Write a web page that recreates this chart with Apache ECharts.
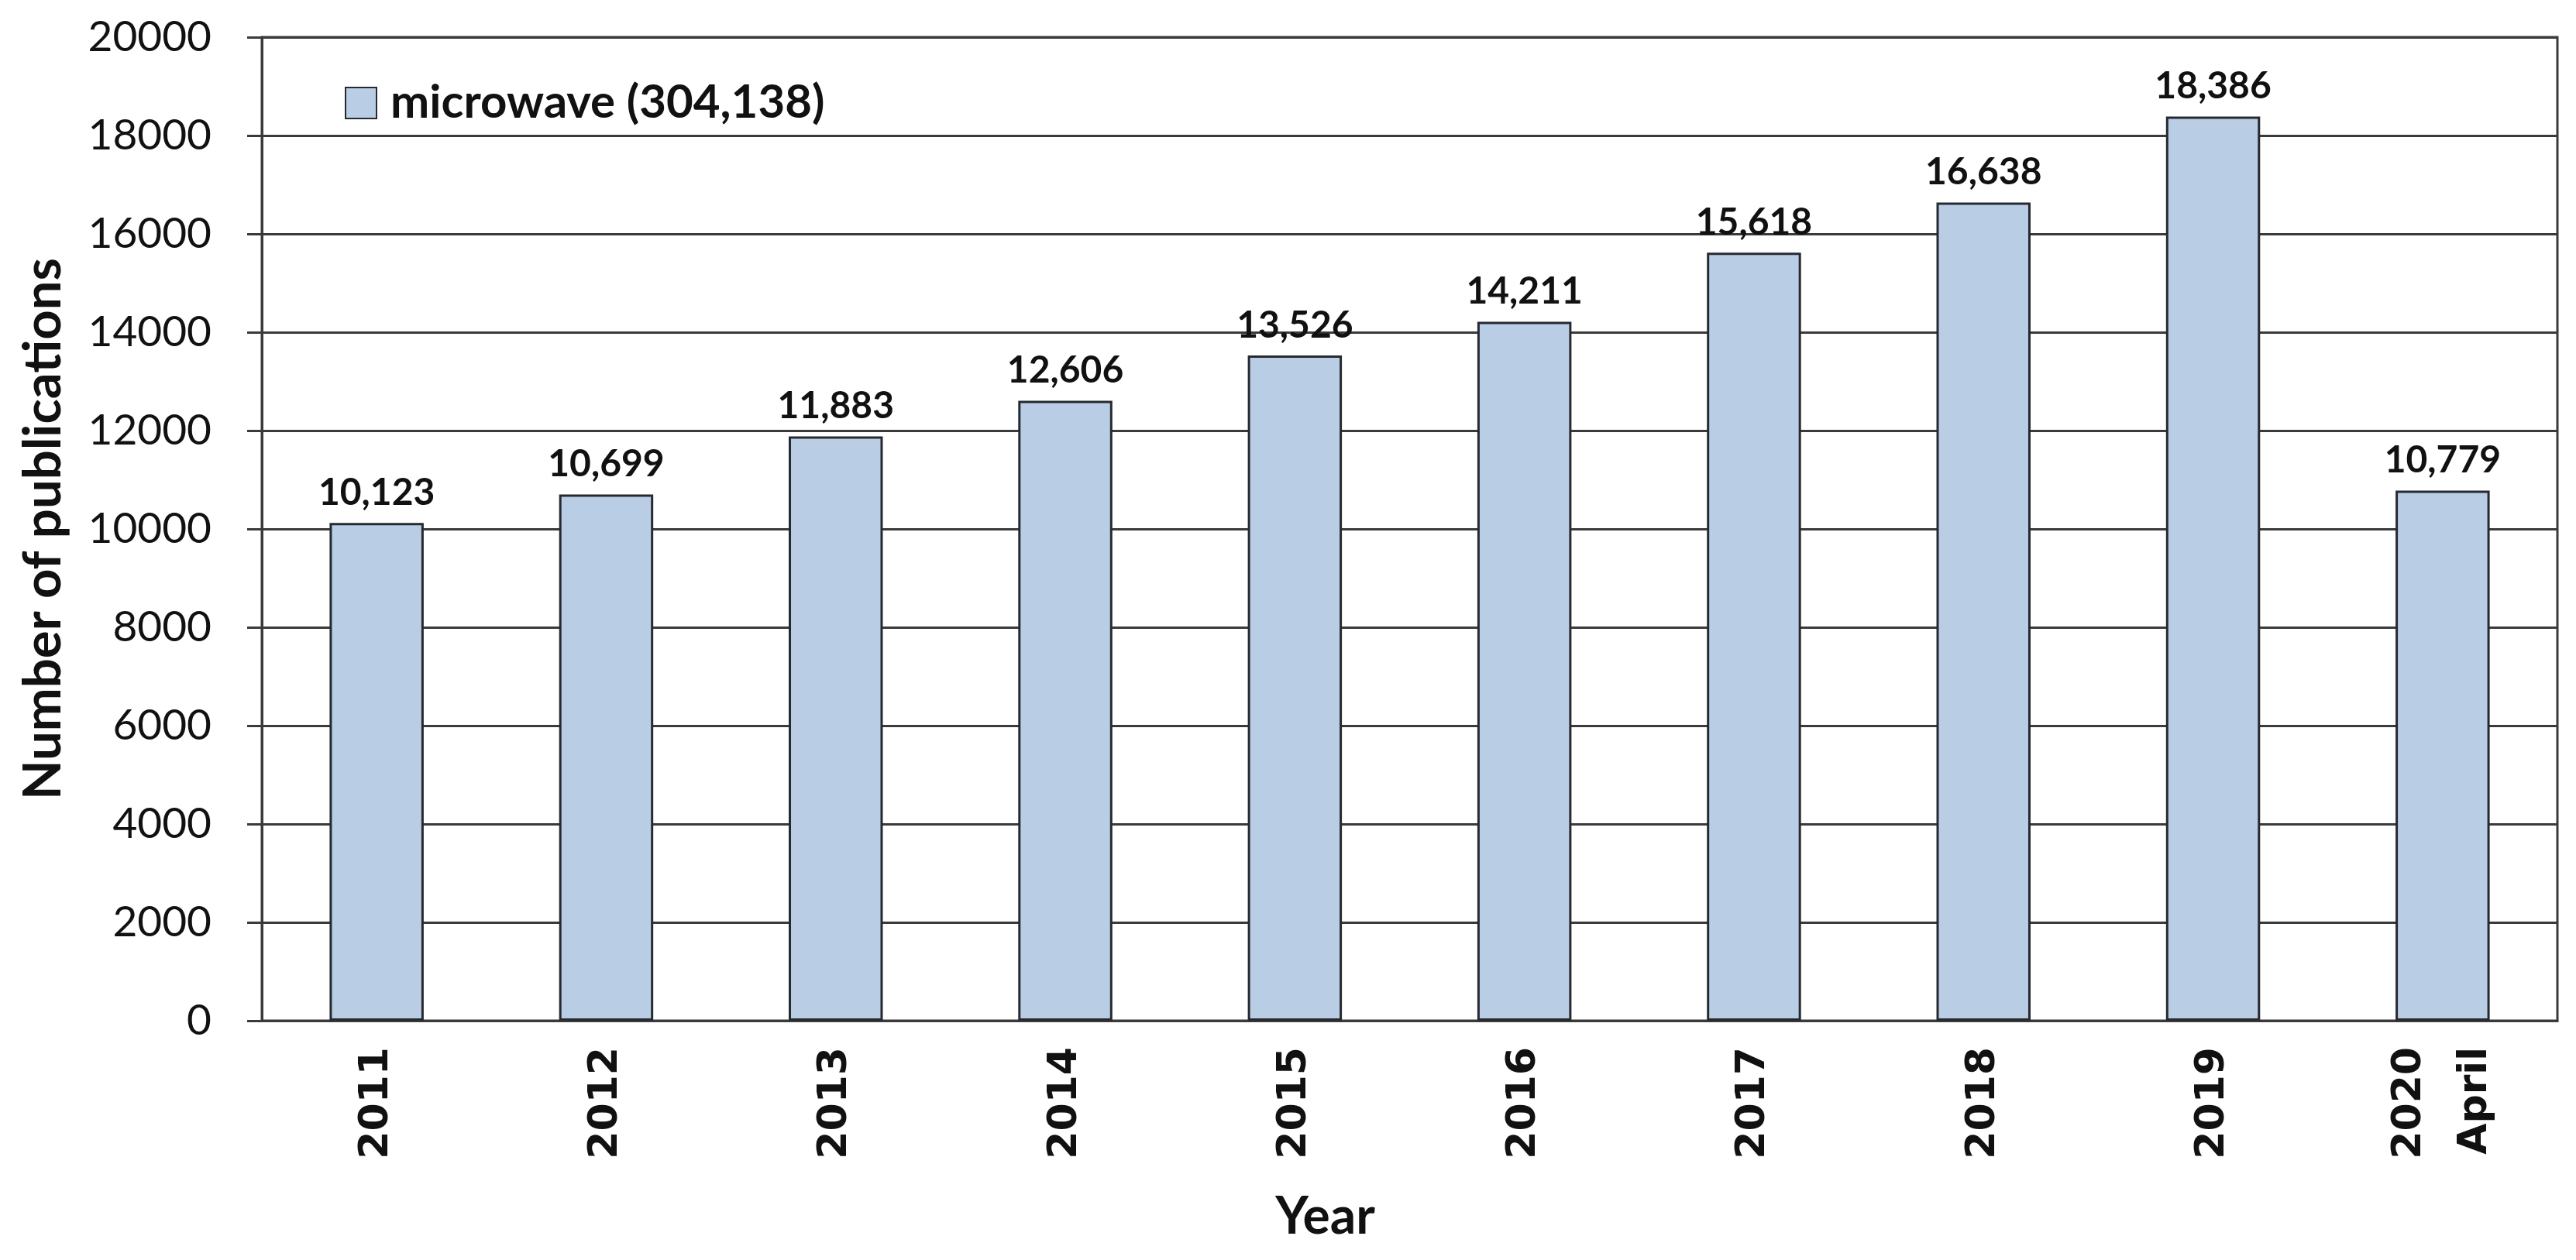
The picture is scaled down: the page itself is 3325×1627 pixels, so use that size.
<!DOCTYPE html>
<html>
<head>
<meta charset="utf-8">
<script src="https://cdn.jsdelivr.net/npm/echarts@6/dist/echarts.min.js"></script>
<style>
html,body{margin:0;padding:0;background:#fff;}
#chart{width:3325px;height:1627px;}
</style>
</head>
<body>
<div id="chart"></div>
<script>
const categories = ['2011','2012','2013','2014','2015','2016','2017','2018','2019','2020\nApril'];
const publications = [10123, 10699, 11883, 12606, 13526, 14211, 15618, 16638, 18386, 10779];
const seriesName = 'microwave (304,138)';
const yAxisTitle = 'Number of publications';
const xAxisTitle = 'Year';

const chart = echarts.init(document.getElementById('chart'));
chart.setOption({
  backgroundColor: '#ffffff',
  animation: false,
  grid: {
    left: 338, right: 24, top: 48, bottom: 309,
    show: true, borderColor: '#3a3a3a', borderWidth: 3, backgroundColor: 'transparent'
  },
  legend: {
    show: true,
    left: 440, top: 98,
    itemWidth: 40, itemHeight: 40,
    icon: 'rect',
    textStyle: { fontFamily: 'Lato', fontWeight: 'bold', fontSize: 60, color: '#111', padding: [0,0,0,13] },
    data: [seriesName]
  },
  xAxis: {
    type: 'category',
    data: categories,
    name: xAxisTitle,
    nameLocation: 'middle',
    nameGap: 221,
    nameTextStyle: { fontFamily: 'Lato', fontWeight: 'bold', fontSize: 66, color: '#111', padding: [0, 218, 0, 0] },
    axisLine: { show: true, lineStyle: { color: '#3a3a3a', width: 3 } },
    axisTick: { show: false },
    axisLabel: {
      rotate: 90, margin: 34, interval: 0,
      fontFamily: 'DejaVu Sans', fontWeight: 'bold', fontSize: 52, color: '#111', lineHeight: 85
    },
    splitLine: { show: false }
  },
  yAxis: {
    type: 'value',
    min: 0, max: 20000, interval: 2000,
    name: yAxisTitle,
    nameLocation: 'middle',
    nameGap: 248,
    nameTextStyle: { fontFamily: 'Lato', fontWeight: 'bold', fontSize: 67, color: '#111' },
    axisLine: { show: true, lineStyle: { color: '#3a3a3a', width: 3 } },
    axisTick: { show: true, inside: false, length: 19, lineStyle: { color: '#3a3a3a', width: 3 } },
    axisLabel: { margin: 65, fontFamily: 'Lato', fontSize: 55, color: '#111', formatter: v => String(v) },
    splitLine: { show: true, lineStyle: { color: '#3a3a3a', width: 3 } }
  },
  series: [{
    name: seriesName,
    type: 'bar',
    data: publications,
    barWidth: '41%',
    itemStyle: { color: '#B9CDE5', borderColor: '#262a30', borderWidth: 3 },
    label: {
      show: true, position: 'top', distance: 15,
      fontFamily: 'Lato', fontWeight: 'bold', fontSize: 48, color: '#111',
      formatter: p => p.value.toLocaleString('en-US')
    }
  }]
});
</script>
</body>
</html>
